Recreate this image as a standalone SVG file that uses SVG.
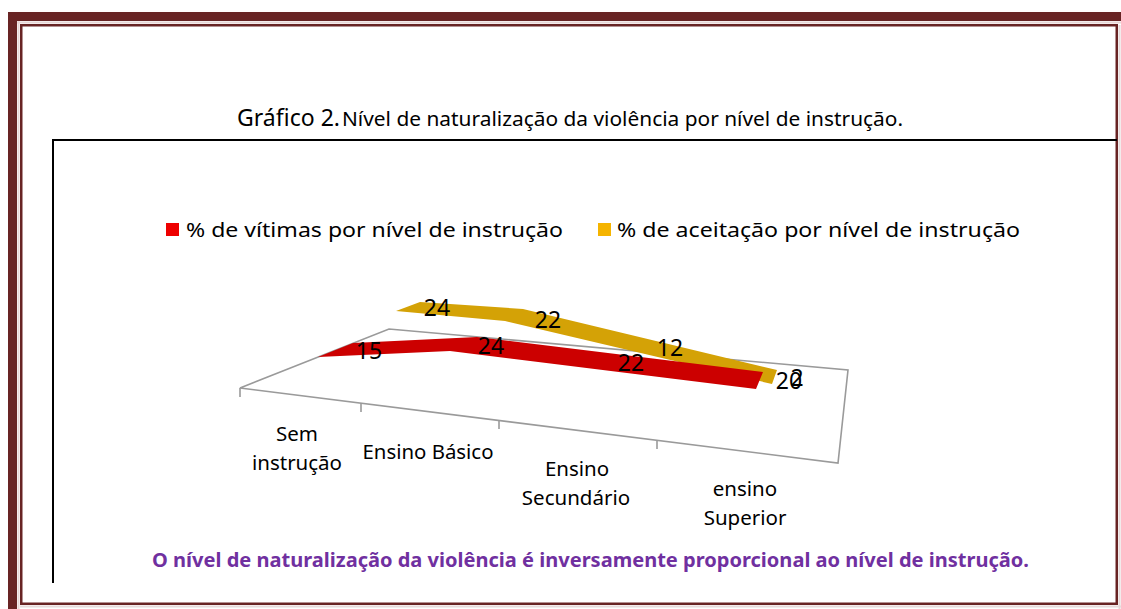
<svg xmlns="http://www.w3.org/2000/svg" width="1121" height="609" viewBox="0 0 1121 609">
<style>
.t{font-family:"Noto Sans","Open Sans","Liberation Sans",sans-serif;fill:#000}
.lbl{font-size:23px;text-anchor:middle}
.cat{font-size:20.5px;text-anchor:middle}
.floor{fill:none;stroke:#9a9a9a;stroke-width:1.6}
.tick{stroke:#9a9a9a;stroke-width:1.6}
</style>
<rect width="1121" height="609" fill="#fff"/>
<g id="frame">
<rect x="8" y="12" width="1113" height="9" fill="#682424"/>
<rect x="8" y="12" width="9" height="597" fill="#682424"/>
<line x1="17" y1="22.5" x2="1121" y2="22.5" stroke="#e8d6d6" stroke-width="2"/>
<line x1="18.5" y1="21" x2="18.5" y2="609" stroke="#e8d6d6" stroke-width="2"/>
<rect x="21.25" y="25.25" width="1095.5" height="578.5" fill="none" stroke="#682424" stroke-width="2.5"/>
<line x1="20" y1="606.5" x2="1121" y2="606.5" stroke="#e6dada" stroke-width="2"/>
<line x1="1119.5" y1="25" x2="1119.5" y2="609" stroke="#e6dada" stroke-width="2"/>
</g>
<g id="chartbox">
<path d="M53,583 V140 H1117" fill="none" stroke="#000" stroke-width="2"/>
</g>
<g id="title">
<text class="t" x="237" y="126" font-size="24" textLength="103" lengthAdjust="spacingAndGlyphs">Gráfico 2.</text>
<text class="t" x="342" y="126" font-size="19" textLength="561" lengthAdjust="spacingAndGlyphs">Nível de naturalização da violência por nível de instrução.</text>
</g>
<g id="legend">
<rect x="166" y="223" width="13" height="13" fill="#ee0000"/>
<text class="t" x="186" y="237" font-size="20.5" textLength="377" lengthAdjust="spacingAndGlyphs">% de vítimas por nível de instrução</text>
<rect x="598" y="223" width="13" height="13" fill="#f5b400"/>
<text class="t" x="617" y="237" font-size="20.5" textLength="403" lengthAdjust="spacingAndGlyphs">% de aceitação por nível de instrução</text>
</g>
<g id="floor">
<polygon class="floor" points="240,388 389,329 848,370 838,463"/>
<line class="tick" x1="240" y1="388" x2="240" y2="397"/>
<line class="tick" x1="361" y1="403" x2="361" y2="412"/>
<line class="tick" x1="499" y1="420.5" x2="499" y2="429"/>
<line class="tick" x1="657" y1="440" x2="657" y2="449"/>
</g>
<g id="series-aceitacao">
<polygon points="396,311 420,302 523,309 777,370 772,384 505,321" fill="#d4a206"/>
</g>
<g id="series-vitimas">
<polygon points="318,357 353,343 477,337 763,372 756,389 450,351" fill="#cc0000"/>
</g>
<g id="labels">
<text class="t lbl" x="437" y="316">24</text>
<text class="t lbl" x="548" y="328">22</text>
<text class="t lbl" x="670" y="356">12</text>
<text class="t lbl" x="369" y="359">15</text>
<text class="t lbl" x="491" y="354">24</text>
<text class="t lbl" x="631" y="371">22</text>
<text class="t lbl" x="789" y="389">20</text>
<text class="t lbl" x="797" y="386">2</text>
</g>
<g id="categories">
<text class="t cat" x="297" y="441">Sem</text>
<text class="t cat" x="297" y="470">instrução</text>
<text class="t cat" x="428" y="459" textLength="131" lengthAdjust="spacingAndGlyphs">Ensino Básico</text>
<text class="t cat" x="577" y="476">Ensino</text>
<text class="t cat" x="576" y="505">Secundário</text>
<text class="t cat" x="745" y="496">ensino</text>
<text class="t cat" x="745" y="525">Superior</text>
</g>
<g id="note">
<text class="t" x="152" y="567" font-size="19" font-weight="bold" fill="#7030a0" style="fill:#7030a0" textLength="877" lengthAdjust="spacingAndGlyphs">O nível de naturalização da violência é inversamente proporcional ao nível de instrução.</text>
</g>
</svg>
